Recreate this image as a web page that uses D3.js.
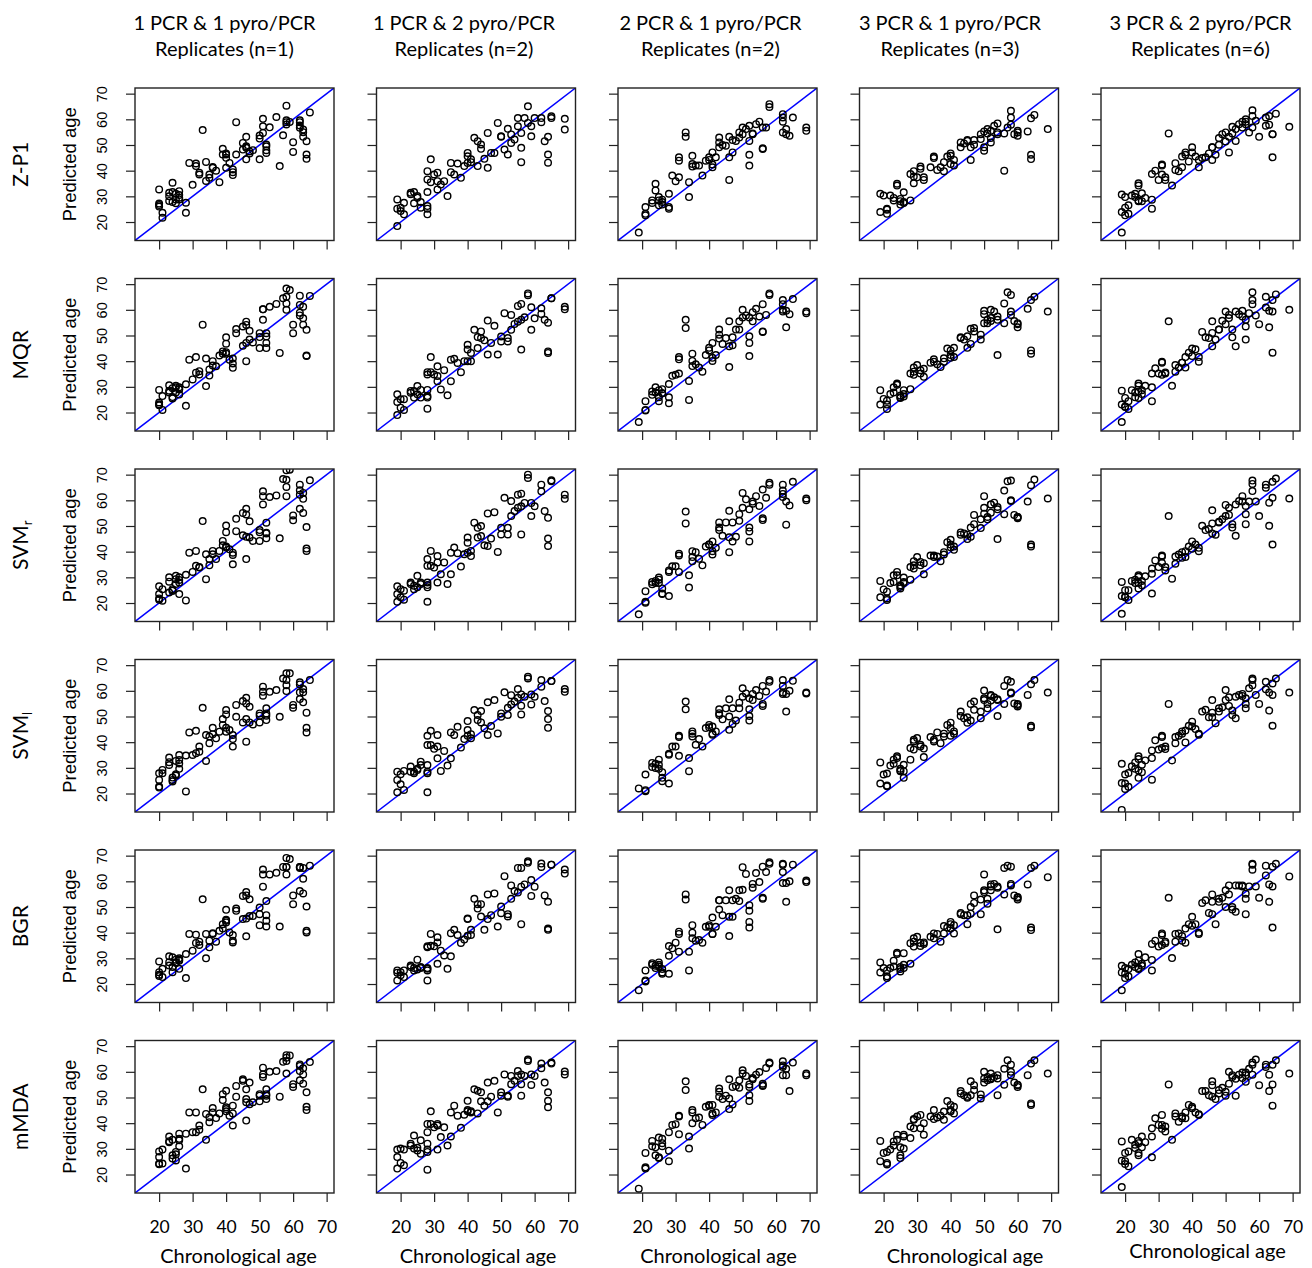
<!DOCTYPE html>
<html>
<head>
<meta charset="utf-8">
<script src="https://cdn.jsdelivr.net/npm/d3@7"></script>
<style>
  body { margin: 0; background: #fff; }
  svg { display: block; }
</style>
</head>
<body>
<div id="chart"></div>
<script>
// Chronological ages of the samples, one list per replicate scheme (column)
const ageC1 = [20,20,20,20,21,21,23,23,23,24,24,24,25,25,25,26,26,26,26,28,28,29,30,31,31,32,32,33,34,34,35,35,36,36,37,38,39,39,40,40,40,40,41,42,42,42,43,43,45,45,46,46,46,46,47,47,48,50,50,50,51,51,51,52,52,52,52,53,55,56,57,58,58,58,58,59,60,60,62,62,62,62,63,63,63,64,64,64,65];
const ageC2 = [19,19,19,20,20,21,21,23,23,24,24,25,25,26,26,28,28,28,28,28,28,29,29,30,31,31,31,32,33,34,35,35,36,37,38,39,40,40,40,41,41,42,43,43,44,44,45,46,46,47,48,49,50,50,51,52,52,53,53,54,55,55,56,56,56,57,58,58,59,59,60,62,62,63,64,64,64,65,65,69,69];
const ageC3 = [19,21,21,21,23,23,24,24,25,25,25,26,26,26,28,28,28,29,30,31,31,31,33,33,34,34,35,35,35,36,37,38,39,40,40,41,41,41,42,43,43,43,44,45,46,46,46,47,47,48,49,49,50,50,51,52,52,52,52,53,53,54,55,56,56,56,57,58,58,62,62,62,62,63,63,64,65,69,69];
const ageC4 = [19,19,20,21,21,21,22,23,23,24,24,25,25,25,26,26,26,28,28,29,29,29,30,31,31,32,32,34,35,35,36,37,38,38,39,40,40,40,41,41,43,43,44,45,45,46,46,47,47,49,49,50,50,50,51,51,52,52,52,53,54,54,54,56,56,57,58,58,58,59,60,60,60,63,64,64,64,65,69];
const ageC5 = [19,19,19,20,20,20,21,21,22,23,23,24,24,24,24,25,25,26,28,28,28,29,30,31,31,31,32,32,33,34,35,35,36,37,37,38,38,39,40,40,41,42,42,43,44,45,46,46,46,47,48,48,49,50,50,51,51,52,52,53,53,54,55,55,56,56,56,57,58,58,58,59,60,62,62,63,63,64,64,64,65,69];

// Predicted ages, column 1 (1 PCR & 1 pyro/PCR)
const zp1C1 = [32.7,26.6,26.0,27.2,23.6,21.7,28.2,31.4,30.0,35.3,31.7,27.8,28.8,31.0,27.3,28.8,30.5,29.5,32.0,27.5,23.6,43.0,34.5,41.8,42.8,39.2,38.5,55.8,43.4,36.0,37.2,38.5,41.1,41.4,40.0,35.5,48.5,46.3,46.3,46.7,41.1,45.0,43.0,40.5,38.3,39.4,58.9,46.3,48.2,50.8,53.2,44.4,48.9,49.5,46.7,47.5,48.0,44.4,53.7,52.5,54.7,60.2,57.3,49.5,46.9,50.2,48.0,56.9,60.9,41.8,53.8,65.3,58.9,59.6,58.0,59.0,51.1,47.3,59.6,57.6,58.9,56.7,53.2,56.0,55.0,51.5,46.3,44.6,62.7];
const mqrC1 = [28.8,23.9,22.8,23.2,21.0,26.4,28.5,30.6,27.8,29.5,26.0,25.5,30.4,29.8,27.8,27.0,29.0,29.2,29.8,22.6,31.0,40.6,32.9,41.6,35.5,36.1,34.8,54.2,30.3,41.0,34.4,36.8,40.0,38.3,38.0,42.2,42.9,43.8,49.3,46.8,42.9,43.5,40.6,39.1,37.4,41.0,52.5,50.9,53.5,46.0,55.4,47.1,40.0,54.1,51.8,48.4,47.3,45.1,49.4,50.9,60.2,56.1,60.2,50.9,49.6,47.1,45.1,61.2,62.3,43.2,64.5,68.3,65.1,62.5,60.0,67.7,54.2,50.9,65.5,58.9,57.8,61.9,56.7,61.2,54.2,52.2,42.2,42.0,65.4];
const svmrC1 = [26.5,23.5,21.8,21.3,20.9,25.4,30.0,28.3,24.1,24.8,24.8,25.4,29.3,27.4,30.6,23.5,29.0,28.0,30.0,21.0,31.0,39.6,32.1,40.3,34.5,33.8,34.0,51.9,29.3,39.0,34.7,37.1,39.0,40.3,37.1,40.3,42.5,44.2,50.2,47.6,41.6,42.0,40.9,39.6,38.7,35.1,52.8,48.0,55.1,46.4,56.7,45.8,37.1,54.5,51.8,45.5,44.2,44.2,47.6,48.4,63.5,61.6,58.4,47.4,45.2,47.1,51.3,61.3,61.9,45.2,68.3,71.7,65.2,61.6,68.0,71.9,54.1,52.2,66.1,63.9,56.7,62.2,55.1,60.6,62.9,49.6,41.2,40.3,67.8];
const svmlC1 = [27.9,25.3,22.7,22.3,29.2,27.9,34.0,32.2,31.1,26.2,24.7,25.3,27.0,27.5,32.7,35.0,29.6,33.1,31.7,20.8,34.8,43.8,35.0,44.4,35.7,38.3,36.3,53.4,32.7,42.8,39.6,42.2,45.6,43.1,41.5,44.1,49.0,46.7,52.5,50.8,44.1,45.6,44.7,42.8,38.3,41.2,54.5,49.9,56.0,47.7,57.3,40.2,49.0,55.1,53.8,47.7,46.9,47.7,51.2,50.3,61.6,59.6,58.1,50.3,48.6,53.2,51.2,59.6,60.3,49.9,64.8,66.8,62.2,59.9,64.2,66.8,54.5,53.4,63.3,56.8,62.5,59.4,60.7,55.5,59.4,51.5,45.6,43.8,64.2];
const bgrC1 = [28.8,24.6,23.1,23.6,25.9,22.7,30.8,28.5,27.2,24.6,26.6,30.4,28.5,29.5,28.2,30.0,29.1,29.5,25.9,22.3,31.7,39.5,33.0,39.2,36.0,36.5,35.2,53.0,30.0,39.5,34.3,36.9,39.5,39.8,36.5,40.7,41.6,43.3,48.9,44.6,44.0,45.0,40.1,39.1,36.9,36.2,49.4,48.5,54.3,45.3,55.8,38.6,45.5,54.5,53.0,46.5,46.5,42.9,47.2,49.8,64.6,62.7,57.9,46.8,44.6,42.4,52.3,62.7,63.3,42.4,65.6,69.1,65.6,62.7,65.6,68.7,54.5,51.1,65.6,56.2,65.6,65.2,55.3,61.0,65.2,50.2,40.7,40.1,66.1];
const mmdaC1 = [29.0,26.8,24.3,24.0,29.7,24.3,34.8,33.0,32.6,33.5,27.5,26.2,25.5,28.8,27.9,33.3,33.9,35.9,31.0,22.3,35.9,44.2,36.5,44.2,36.5,39.1,37.4,53.2,33.5,43.6,40.4,42.3,45.9,44.2,42.0,43.8,49.0,51.3,52.6,46.2,44.6,45.5,42.9,39.1,46.8,43.8,50.3,54.5,56.5,57.1,48.1,41.0,49.4,53.2,55.8,47.4,48.1,48.5,50.7,51.3,61.6,59.0,58.0,50.7,49.4,53.2,51.3,60.0,60.3,50.3,63.9,66.5,59.3,64.2,65.5,66.4,55.2,54.1,62.9,56.7,62.3,60.3,61.4,55.4,59.0,52.0,46.4,45.1,63.8];

// column 2 (1 PCR & 2 pyro/PCR)
const zp1C2 = [18.4,28.8,25.2,25.6,24.3,23.0,27.5,30.8,31.4,31.7,27.3,30.1,29.5,25.6,27.8,31.7,26.2,25.2,23.0,39.8,36.6,44.4,35.5,38.5,35.9,39.2,32.7,34.6,35.9,30.1,43.0,39.4,38.5,42.8,37.2,41.8,43.0,46.9,45.6,43.3,44.4,52.8,51.5,41.8,50.2,48.5,44.6,54.7,41.1,46.9,46.9,58.6,53.4,53.2,48.2,46.3,56.3,50.8,54.1,52.1,60.5,57.3,43.3,54.7,48.9,60.5,65.1,58.6,57.3,53.4,60.5,60.5,58.9,51.5,53.2,46.3,43.1,61.2,60.5,60.2,56.0];
const mqrC2 = [19.0,27.1,24.1,25.2,21.9,21.0,25.2,27.7,28.4,28.4,25.8,30.3,27.1,25.8,28.8,28.8,26.4,25.8,21.5,35.7,34.8,41.6,35.7,34.8,34.2,38.0,32.2,29.0,36.5,26.7,32.2,40.6,40.9,39.3,35.7,40.0,40.0,46.4,44.5,43.2,40.0,52.2,49.4,45.1,49.0,51.6,48.1,55.8,42.6,47.1,53.8,42.6,49.6,47.7,58.7,47.7,49.0,58.0,52.2,54.5,55.4,61.5,44.5,62.3,56.1,57.1,66.4,65.7,52.2,61.0,56.7,60.6,58.4,56.1,55.0,43.8,43.2,64.5,64.5,61.2,60.2];
const svmrC2 = [20.5,26.5,23.5,25.4,22.2,21.3,24.8,27.4,28.0,26.7,25.4,30.6,26.1,27.4,28.0,28.0,26.1,27.0,20.5,37.1,34.5,40.3,34.5,33.8,35.8,38.3,28.0,31.2,35.8,27.4,31.2,39.6,41.6,39.4,34.2,39.0,39.6,45.5,43.5,40.3,38.3,51.3,49.3,45.5,50.0,46.1,42.5,54.9,42.2,45.1,55.4,39.9,49.3,46.7,61.0,46.7,49.3,59.7,53.9,55.8,57.1,62.2,46.7,62.6,57.7,59.0,70.0,68.7,53.9,59.0,57.7,66.1,63.5,55.8,53.2,45.1,42.2,67.8,67.4,62.2,60.6];
const svmlC2 = [20.5,28.5,25.3,27.5,23.6,21.4,28.8,28.5,30.5,28.5,27.9,29.6,29.2,31.1,32.4,28.5,31.1,27.9,20.5,42.5,38.9,44.4,38.9,37.4,38.3,42.8,33.7,28.8,36.6,30.9,33.7,43.8,42.8,46.0,37.9,41.2,42.5,48.2,44.7,43.1,41.5,52.5,50.6,48.6,52.1,47.7,45.4,55.5,42.8,46.3,56.4,43.4,51.2,49.9,59.4,50.6,53.4,58.3,54.7,55.8,57.3,60.7,50.8,58.6,54.2,57.7,65.5,64.8,54.7,58.6,57.7,64.2,61.6,56.0,52.1,49.0,45.6,63.8,63.8,60.7,59.6];
const bgrC2 = [21.4,25.3,24.4,24.6,23.4,22.7,25.3,26.6,27.2,25.3,26.2,29.5,25.7,26.2,26.6,25.9,25.3,26.2,21.4,34.7,34.3,39.5,34.9,34.7,38.2,36.2,27.9,33.0,31.1,25.9,30.8,39.8,41.1,39.1,36.0,37.3,38.8,45.3,45.5,41.1,39.1,53.2,51.1,49.4,51.1,46.3,41.1,54.9,45.3,46.8,55.3,42.4,50.2,47.6,62.0,47.2,46.3,58.4,53.2,56.2,55.6,65.2,43.3,65.2,57.9,58.8,67.8,67.2,54.3,60.5,57.9,66.9,65.6,54.5,52.0,41.6,41.1,66.5,66.5,64.6,63.0];
const mmdaC2 = [22.3,26.8,29.7,30.1,24.5,23.6,29.7,31.3,32.0,30.1,35.2,29.4,30.4,28.1,33.3,29.7,32.0,28.8,21.9,39.7,36.5,44.6,39.7,38.4,39.1,39.7,29.7,34.6,38.4,31.3,34.8,44.2,46.8,42.9,38.2,43.3,44.6,48.7,45.1,44.2,44.6,53.2,52.6,43.8,52.0,48.5,46.8,55.8,48.5,50.3,56.5,44.2,50.7,52.0,59.0,50.7,50.3,58.4,55.2,56.5,58.4,60.3,50.7,59.0,55.2,58.4,64.8,64.2,54.9,59.0,58.4,63.2,61.4,55.8,52.0,48.7,46.2,63.6,63.2,60.1,59.0];

// column 3 (2 PCR & 1 pyro/PCR)
const zp1C3 = [15.9,25.8,23.2,22.6,27.4,28.4,34.9,32.3,29.7,28.4,26.5,28.7,27.8,26.8,31.0,25.8,25.2,38.1,35.9,37.4,43.9,45.2,54.9,53.2,29.7,35.5,42.6,45.8,41.6,42.0,42.0,38.1,43.9,44.2,45.2,42.4,41.3,47.1,45.2,52.9,51.0,49.1,50.0,49.7,53.2,36.4,45.2,51.9,47.1,51.6,54.9,52.9,56.8,54.2,56.2,57.5,51.6,46.2,42.0,54.5,54.2,58.1,59.1,56.8,48.7,48.4,56.8,65.9,64.8,62.0,60.7,54.9,59.1,56.2,54.2,53.6,60.7,56.8,55.5];
const mqrC3 = [16.3,20.8,24.4,21.0,26.9,28.2,29.8,27.8,25.9,24.4,28.7,27.5,29.1,27.5,25.9,23.6,31.1,34.3,34.7,35.2,40.7,41.6,56.1,52.9,32.3,24.9,42.9,40.1,38.1,38.8,37.5,35.9,42.4,44.2,45.2,40.1,41.3,47.1,42.4,52.3,50.3,48.8,46.7,49.0,55.5,37.7,45.8,49.3,46.2,52.3,55.5,52.3,57.0,60.0,57.8,57.0,49.7,47.1,42.0,55.5,59.1,60.4,57.4,51.6,51.4,62.2,58.0,65.8,66.4,63.8,59.3,60.0,62.2,59.6,53.2,58.3,64.2,59.3,58.7];
const svmrC3 = [15.6,20.1,24.6,20.5,28.2,27.3,27.8,28.6,29.9,27.8,29.1,23.7,23.5,25.7,22.7,32.1,32.7,34.3,34.3,39.2,38.5,32.1,55.6,51.0,30.8,26.0,40.2,37.9,36.3,39.8,37.2,34.7,42.0,42.8,42.8,38.9,40.2,44.0,41.5,51.4,49.4,48.4,46.2,51.4,55.9,39.8,45.6,51.4,44.0,45.8,52.0,54.6,57.1,62.9,60.4,56.5,49.4,47.9,44.0,58.7,59.5,61.6,57.8,53.0,52.3,64.2,61.0,66.8,66.1,66.1,63.8,61.3,62.5,59.5,50.5,58.0,67.2,60.7,60.0];
const svmlC3 = [22.0,21.3,20.9,27.4,31.9,30.3,31.6,29.9,31.2,33.2,29.6,26.1,24.8,28.3,23.9,35.5,35.1,38.3,38.3,42.0,42.5,34.7,55.8,52.8,33.8,28.7,44.2,42.2,43.3,39.0,41.2,38.3,45.5,45.8,46.7,43.3,42.9,46.1,44.2,52.8,51.3,50.6,48.9,53.2,56.7,44.8,50.0,53.2,47.1,48.4,55.4,53.2,57.7,61.0,59.0,50.2,48.4,57.1,52.8,56.4,58.8,60.3,58.0,54.9,54.1,61.9,59.7,64.2,63.5,64.2,59.3,58.8,61.9,58.8,51.9,60.0,63.9,59.3,59.0];
const bgrC3 = [17.6,21.4,21.0,25.3,27.5,28.1,27.1,26.2,27.5,28.4,26.8,24.0,24.5,25.8,24.0,31.0,34.8,33.9,36.1,40.4,39.5,32.6,54.9,52.9,32.6,25.3,42.9,40.0,37.8,36.9,37.1,36.1,42.3,42.3,42.9,39.5,39.5,45.9,42.3,52.6,52.6,49.0,46.8,52.6,56.5,38.7,46.2,52.6,46.2,53.2,52.3,56.5,56.7,65.5,62.9,42.0,50.7,48.5,44.2,57.5,59.0,63.2,59.7,53.6,53.2,65.7,63.6,67.4,66.8,66.8,66.5,59.3,63.6,59.3,52.0,60.0,66.5,60.3,59.7];
const mmdaC3 = [14.5,22.8,22.3,28.4,33.1,31.0,27.5,30.6,34.4,26.4,26.7,32.2,31.0,33.9,29.3,25.2,36.5,39.3,39.6,42.6,42.9,35.7,56.3,52.9,34.8,30.1,44.2,45.1,40.0,41.9,42.2,39.3,46.4,46.8,47.1,43.8,43.2,47.1,44.2,53.5,52.2,50.3,49.4,50.7,57.1,45.5,49.6,54.1,47.3,54.5,53.8,56.7,60.6,59.3,58.4,55.1,50.9,48.6,54.1,57.1,57.6,58.9,59.9,54.5,55.4,54.8,61.5,63.6,63.2,64.1,58.7,61.9,62.5,58.7,61.2,52.5,63.6,59.3,58.7];

// column 4 (3 PCR & 1 pyro/PCR)
const zp1C4 = [31.0,23.9,30.3,24.8,23.2,25.2,30.3,29.4,28.4,34.2,34.9,29.0,26.8,28.1,31.6,27.8,27.4,28.4,38.7,39.8,37.7,35.1,37.4,41.6,40.7,37.4,36.4,41.3,44.9,45.5,40.3,41.3,39.8,43.3,45.5,45.8,46.7,42.6,44.2,42.0,51.0,49.1,50.6,51.9,51.6,49.1,44.2,50.1,51.9,52.3,54.2,55.3,47.8,49.1,54.5,56.2,52.7,55.5,51.0,57.5,54.9,58.4,54.2,54.5,40.0,56.8,57.9,63.3,60.7,54.2,55.5,54.9,53.6,55.3,60.4,46.2,44.5,61.7,56.2];
const mqrC4 = [28.7,23.1,25.3,21.4,23.1,24.6,27.2,27.8,29.8,30.8,31.3,25.9,26.6,25.7,28.7,26.2,27.2,29.1,35.2,35.9,37.5,34.7,38.5,35.2,36.5,33.9,37.0,39.4,40.7,39.8,38.8,37.7,39.8,41.1,44.9,42.4,44.2,41.3,45.2,41.6,49.0,49.3,48.4,49.7,45.2,46.7,52.6,52.9,51.6,50.3,48.4,54.8,59.6,58.3,56.1,54.8,55.6,60.0,56.8,59.3,56.1,57.4,42.4,54.8,62.5,66.8,65.8,59.3,58.0,55.6,54.8,54.4,53.2,60.4,63.8,44.2,42.9,65.1,59.3];
const svmrC4 = [28.6,22.2,25.3,21.2,21.8,24.4,27.8,28.2,30.8,30.8,32.1,25.7,26.3,26.9,28.2,27.8,29.9,29.1,34.0,34.7,36.3,33.4,37.9,34.7,36.0,31.2,35.5,38.5,37.9,38.5,38.1,36.3,38.9,39.8,43.7,44.6,42.8,41.7,42.0,40.7,47.5,46.6,47.1,46.6,44.9,45.8,49.4,54.3,50.7,52.6,49.2,54.8,57.1,61.6,52.6,53.5,55.2,58.4,58.4,59.1,57.4,56.5,44.9,54.6,63.8,67.4,67.7,60.0,59.7,54.3,53.5,53.5,53.0,59.5,65.9,42.8,42.0,68.1,60.7];
const svmlC4 = [32.1,23.9,27.4,22.8,23.1,27.8,30.9,31.6,33.2,34.5,33.8,28.7,29.6,29.0,31.2,28.7,26.1,33.2,37.7,40.3,40.9,37.1,41.6,38.3,39.0,34.2,37.5,42.0,40.3,40.9,43.8,39.6,42.2,43.3,46.7,47.6,45.5,42.5,44.2,43.3,51.9,50.2,49.3,49.7,47.6,48.4,54.9,55.8,52.6,51.9,49.3,56.4,60.1,57.1,53.2,54.9,56.2,58.4,58.0,57.5,56.4,56.7,50.2,54.9,61.9,64.2,63.5,59.0,59.3,55.1,54.9,54.5,53.9,58.4,62.6,46.4,45.8,64.2,59.3];
const bgrC4 = [28.4,24.5,26.2,22.3,23.0,25.3,26.2,26.8,29.1,31.7,32.2,24.9,25.8,26.6,27.5,26.2,32.0,27.9,35.9,36.5,37.8,34.6,38.4,34.8,36.0,35.6,36.2,38.4,37.8,39.7,39.5,36.5,39.7,42.6,42.0,44.2,43.3,41.6,39.7,42.9,47.2,47.7,46.8,46.8,43.3,47.4,50.0,51.6,54.5,52.9,47.2,55.8,56.5,62.7,51.3,53.2,56.5,58.8,58.0,59.0,57.5,58.0,41.3,54.9,65.2,66.1,65.7,58.4,59.0,54.5,53.9,53.6,52.9,58.8,65.2,42.0,41.0,66.1,61.6];
const mmdaC4 = [33.1,25.2,28.4,23.9,24.5,28.8,29.7,31.3,32.9,33.5,35.5,27.5,26.4,30.6,30.1,34.8,35.5,34.2,38.7,41.3,41.6,38.0,42.6,38.0,43.2,35.5,40.0,42.6,41.6,45.1,42.2,42.9,41.3,44.5,48.6,47.1,45.1,44.5,46.4,43.8,52.5,51.6,50.9,50.3,49.9,50.9,56.3,54.8,52.9,51.2,49.6,57.4,60.0,55.8,56.7,58.0,57.1,59.3,57.4,58.0,58.7,57.4,50.9,55.0,61.2,64.5,62.8,60.0,58.7,55.8,55.0,54.8,54.1,58.7,63.2,47.7,47.1,64.5,59.3];

// column 5 (3 PCR & 2 pyro/PCR)
const zp1C5 = [15.9,30.7,23.9,29.7,25.6,22.6,26.5,23.2,30.3,31.0,29.7,34.2,35.1,28.1,28.4,31.2,28.1,29.4,25.2,28.7,38.7,40.0,36.4,38.5,42.0,42.4,36.4,37.4,54.5,34.2,40.3,42.9,39.8,41.3,45.5,46.2,47.1,43.6,49.1,47.1,45.5,41.3,44.2,44.9,45.2,46.7,49.1,49.1,44.2,46.2,50.1,52.7,54.2,54.9,51.4,47.1,53.2,54.5,57.1,51.6,56.2,58.1,59.1,56.8,58.1,59.1,60.0,54.9,56.8,63.5,61.3,59.4,53.2,57.5,60.7,61.3,57.9,54.2,54.2,45.2,62.2,57.1];
const mqrC5 = [16.3,28.5,23.1,25.7,22.3,22.1,21.4,24.4,28.7,27.8,25.9,30.4,31.3,28.2,25.7,27.2,28.7,30.4,24.4,29.8,35.2,37.2,35.2,34.7,39.4,39.8,35.6,35.2,55.5,30.4,35.9,38.5,37.5,39.4,39.4,37.5,41.6,43.3,44.9,42.0,44.6,41.6,39.8,51.4,49.3,49.0,51.0,55.5,45.8,48.4,52.3,52.3,55.7,59.3,54.4,58.0,56.8,52.3,49.3,45.8,59.3,58.3,57.4,59.6,56.1,53.5,48.4,58.7,62.2,66.8,63.8,57.8,54.4,65.1,60.9,59.6,53.2,43.3,63.8,59.3,66.0,60.0];
const svmrC5 = [15.8,28.2,22.7,25.0,22.2,22.4,21.2,25.0,28.6,29.1,27.8,30.8,30.2,27.8,25.7,26.9,28.6,30.4,23.7,31.4,33.4,36.6,34.0,35.6,38.1,38.5,32.7,34.0,53.9,29.5,35.3,38.1,38.9,37.6,39.8,37.9,40.2,42.0,44.0,41.1,42.8,41.5,40.2,50.1,48.4,48.8,51.0,56.1,47.1,46.6,51.4,51.7,52.6,58.2,53.9,57.1,54.3,50.7,49.4,46.2,58.4,59.7,59.5,61.6,57.8,54.6,50.7,59.5,63.6,67.7,66.4,59.5,53.9,66.1,64.9,59.1,50.1,42.8,67.2,61.0,68.5,60.7];
const svmlC5 = [13.6,31.6,24.1,27.4,21.8,23.9,22.6,28.0,30.6,32.1,29.6,33.4,34.5,29.0,26.1,28.3,31.2,32.9,25.4,33.8,36.8,40.7,37.1,37.7,42.5,42.0,38.3,37.3,54.9,32.9,39.6,42.0,42.5,44.2,43.3,39.9,44.5,46.4,48.0,46.1,45.1,43.3,42.9,51.9,52.6,49.7,51.5,56.4,49.7,47.4,53.2,51.9,53.6,60.3,56.4,57.5,54.1,52.3,50.6,49.3,57.7,58.4,58.8,58.0,54.9,57.1,53.2,61.0,62.2,64.8,64.2,58.4,54.9,63.5,60.6,59.3,52.3,46.4,62.9,58.4,64.8,59.3];
const bgrC5 = [17.6,27.1,24.5,26.2,22.3,24.0,23.0,25.8,27.5,28.4,26.6,29.1,31.7,25.8,26.2,27.1,27.9,30.4,25.3,29.4,35.6,36.9,34.6,35.2,39.1,39.7,36.5,35.9,53.6,30.1,36.5,39.5,39.7,38.7,36.9,36.1,41.6,43.3,46.2,42.7,43.3,40.0,39.5,51.6,52.6,47.7,52.0,54.9,47.2,43.3,53.2,52.0,53.6,56.5,50.0,58.4,54.9,50.0,49.0,48.1,58.4,58.4,58.0,58.4,55.2,53.2,47.2,58.0,64.5,66.8,66.5,58.0,53.6,66.1,62.3,58.8,52.0,42.0,65.7,58.0,66.8,61.9];
const mmdaC5 = [15.1,32.9,25.4,28.4,24.1,25.2,23.2,29.0,33.5,31.6,30.3,33.1,32.2,27.5,28.4,34.8,30.6,32.6,26.7,34.8,38.0,41.9,39.3,37.8,43.2,39.3,36.8,38.7,55.1,33.5,42.6,43.8,40.6,41.9,42.6,41.9,44.2,47.1,45.8,46.4,44.2,43.2,43.5,52.5,52.5,50.9,50.3,56.3,54.8,49.4,52.9,51.6,53.8,52.2,50.7,60.0,55.4,58.0,58.7,50.7,57.3,58.9,59.7,57.6,59.7,56.1,58.7,61.2,58.9,63.6,62.8,64.8,54.8,62.8,61.9,58.9,52.5,46.8,62.8,55.1,64.5,59.3];

const colTitles = [
  ['1 PCR & 1 pyro/PCR', 'Replicates (n=1)'],
  ['1 PCR & 2 pyro/PCR', 'Replicates (n=2)'],
  ['2 PCR & 1 pyro/PCR', 'Replicates (n=2)'],
  ['3 PCR & 1 pyro/PCR', 'Replicates (n=3)'],
  ['3 PCR & 2 pyro/PCR', 'Replicates (n=6)']
];
const rowNames = ['Z-P1', 'MQR', 'SVM', 'SVM', 'BGR', 'mMDA'];
const rowSubs = ['', '', 'r', 'l', '', ''];
const ticks = [20, 30, 40, 50, 60, 70];
const axisRange = [12.8, 72.2];

const ageCols = [ageC1, ageC2, ageC3, ageC4, ageC5];
const preds = [
  [zp1C1, zp1C2, zp1C3, zp1C4, zp1C5],
  [mqrC1, mqrC2, mqrC3, mqrC4, mqrC5],
  [svmrC1, svmrC2, svmrC3, svmrC4, svmrC5],
  [svmlC1, svmlC2, svmlC3, svmlC4, svmlC5],
  [bgrC1, bgrC2, bgrC3, bgrC4, bgrC5],
  [mmdaC1, mmdaC2, mmdaC3, mmdaC4, mmdaC5]
];

const width = 1312;
const height = 1268;
const boxW = 199;
const boxH = 152.5;
const colLeft = (c) => 135 + c * 241.5;
const rowTop = (r) => 88 + r * 190.5;
// header centres sit a little left of the panel centres in the original
const headerShift = [-10, -12, -7, -9, 0];
const xLabShift = [4, 2, 1, 6, 7];

const calibri = 'Lato, "Open Sans", sans-serif';
const helv = '"Liberation Sans", Arial, sans-serif';

const svg = d3.select('#chart')
  .append('svg')
  .attr('width', width)
  .attr('height', height);

svg.append('rect').attr('width', width).attr('height', height).attr('fill', '#fff');

svg.append('defs').append('clipPath')
  .attr('id', 'plotClip')
  .append('rect')
  .attr('width', boxW)
  .attr('height', boxH);

const x = d3.scaleLinear().domain(axisRange).range([0, boxW]);
const y = d3.scaleLinear().domain(axisRange).range([boxH, 0]);

// column headers
colTitles.forEach((lines, c) => {
  const cx = colLeft(c) + boxW / 2 + headerShift[c];
  lines.forEach((t, i) => {
    svg.append('text')
      .attr('x', cx)
      .attr('y', 29.5 + i * 26.5)
      .attr('text-anchor', 'middle')
      .style('font-family', calibri)
      .style('font-size', '20px')
      .text(t);
  });
});

for (let r = 0; r < preds.length; r++) {
  const top = rowTop(r);
  const midY = top + boxH / 2;

  // row label (method name)
  const lab = svg.append('text')
    .attr('transform', 'translate(21,' + midY + ') rotate(-90)')
    .attr('text-anchor', 'middle')
    .attr('dy', '0.35em')
    .style('font-family', calibri)
    .style('font-size', '21px')
    .text(rowNames[r]);
  if (rowSubs[r]) {
    lab.append('tspan')
      .attr('dy', '0.3em')
      .style('font-size', '13px')
      .text(rowSubs[r]);
  }

  // y axis title
  svg.append('text')
    .attr('transform', 'translate(70,' + midY + ') rotate(-90)')
    .attr('text-anchor', 'middle')
    .attr('dy', '0.35em')
    .style('font-family', helv)
    .style('font-size', '18.5px')
    .text('Predicted age');

  for (let c = 0; c < ageCols.length; c++) {
    const g = svg.append('g')
      .attr('transform', 'translate(' + colLeft(c) + ',' + top + ')');

    const ages = ageCols[c];
    const vals = preds[r][c];
    const pts = d3.zip(ages, vals);

    // left axis
    const yAxis = g.append('g')
      .call(d3.axisLeft(y).tickValues(ticks).tickSize(9).tickSizeOuter(0)
        .tickFormat(c === 0 ? d3.format('d') : () => ''));
    yAxis.select('.domain').remove();
    yAxis.selectAll('line').attr('stroke', '#222').attr('stroke-width', 1.2);
    yAxis.selectAll('text')
      .attr('x', null)
      .attr('dy', null)
      .attr('text-anchor', 'middle')
      .attr('transform', 'translate(-33,0) rotate(-90)')
      .attr('dominant-baseline', 'central')
      .style('font-family', helv)
      .style('font-size', '14.5px')
      .attr('fill', '#000');

    // bottom axis
    const xAxis = g.append('g')
      .attr('transform', 'translate(0,' + boxH + ')')
      .call(d3.axisBottom(x).tickValues(ticks).tickSize(9).tickSizeOuter(0)
        .tickFormat(r === preds.length - 1 ? d3.format('d') : () => ''));
    xAxis.select('.domain').remove();
    xAxis.selectAll('line').attr('stroke', '#222').attr('stroke-width', 1.2);
    xAxis.selectAll('text')
      .attr('y', 27.5)
      .style('font-family', calibri)
      .style('font-size', '17.5px')
      .attr('fill', '#000');

    // y = x reference line
    g.append('line')
      .attr('clip-path', 'url(#plotClip)')
      .attr('x1', x(axisRange[0]))
      .attr('y1', y(axisRange[0]))
      .attr('x2', x(axisRange[1]))
      .attr('y2', y(axisRange[1]))
      .attr('stroke', '#0000ff')
      .attr('stroke-width', 1.5);

    // points
    g.append('g')
      .attr('clip-path', 'url(#plotClip)')
      .selectAll('circle')
      .data(pts)
      .enter()
      .append('circle')
      .attr('cx', (d) => x(d[0]))
      .attr('cy', (d) => y(d[1]))
      .attr('r', 3.3)
      .attr('fill', 'none')
      .attr('stroke', '#000')
      .attr('stroke-width', 1.4);

    // frame
    g.append('rect')
      .attr('width', boxW)
      .attr('height', boxH)
      .attr('fill', 'none')
      .attr('stroke', '#222')
      .attr('stroke-width', 1.4);

    if (r === preds.length - 1) {
      g.append('text')
        .attr('x', boxW / 2 + xLabShift[c])
        .attr('y', boxH + (c === 4 ? 65 : 69.5))
        .attr('text-anchor', 'middle')
        .style('font-family', calibri)
        .style('font-size', '20px')
        .text('Chronological age');
    }
  }
}
</script>
</body>
</html>
